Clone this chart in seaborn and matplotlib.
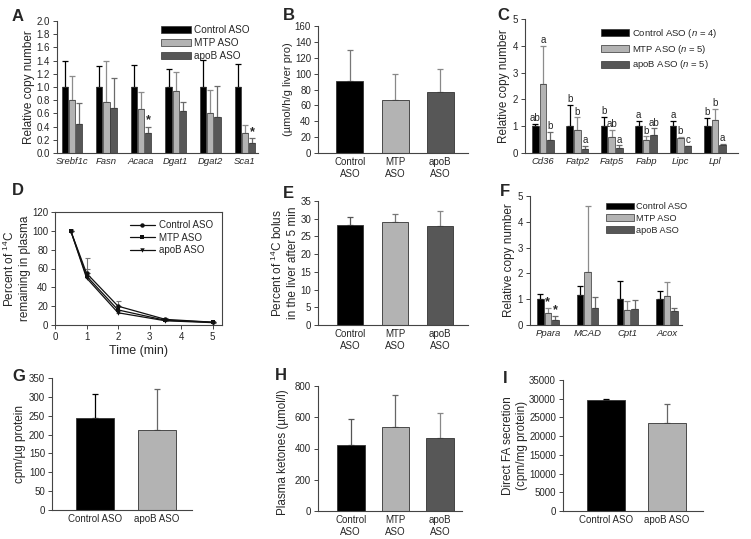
import matplotlib.pyplot as plt
import seaborn as sns
import pandas as pd
from matplotlib.patches import Patch

sns.set_style("ticks")
plt.rcParams['font.family'] = ['Liberation Sans', 'DejaVu Sans']
plt.rcParams['mathtext.fontset'] = 'custom'
plt.rcParams['mathtext.rm'] = 'Liberation Sans'
plt.rcParams['mathtext.it'] = 'Liberation Sans:italic'

# -----------------------------
# DATA
# -----------------------------
groups3 = ["Control ASO", "MTP ASO", "apoB ASO"]

# A - lipogenic genes
a_genes = ["Srebf1c", "Fasn", "Acaca", "Dgat1", "Dgat2", "Sca1"]
a_ctrl = [1.0, 1.0, 1.0, 1.0, 1.0, 1.0]
a_ctrl_top = [1.40, 1.32, 1.33, 1.28, 1.41, 1.35]
a_mtp = [0.81, 0.78, 0.67, 0.94, 0.60, 0.30]
a_mtp_top = [1.16, 1.39, 0.93, 1.23, 0.96, 0.42]
a_apob = [0.44, 0.68, 0.31, 0.63, 0.54, 0.15]
a_apob_top = [0.76, 1.13, 0.40, 0.78, 1.02, 0.22]

# B
b_groups = ["Control\nASO", "MTP\nASO", "apoB\nASO"]
b_vals = [91, 67, 77]
b_tops = [130, 100, 106]

# C - FA uptake genes
c_genes = ["Cd36", "Fatp2", "Fatp5", "Fabp", "Lipc", "Lpl"]
c_ctrl = [1.0, 1.0, 1.0, 1.0, 1.0, 1.0]
c_ctrl_top = [1.08, 1.80, 1.35, 1.20, 1.20, 1.32]
c_mtp = [2.58, 0.85, 0.60, 0.50, 0.55, 1.25]
c_mtp_top = [4.00, 1.33, 0.85, 0.62, 0.60, 1.65]
c_apob = [0.50, 0.15, 0.20, 0.68, 0.25, 0.28]
c_apob_top = [0.78, 0.25, 0.28, 0.92, 0.27, 0.33]
c_letters = [["ab", "b", "b", "a", "a", "b"],
             ["a", "b", "ab", "b", "b", "b"],
             ["b", "a", "a", "ab", "c", "a"]]
c_legend = [r"Control ASO ($n$ = 4)", r"MTP ASO ($n$ = 5)", r"apoB ASO ($n$ = 5)"]

# D - plasma clearance
d_time = [0.5, 1, 2, 3.5, 5]
d_ctrl = [100, 55, 20, 6, 3]
d_ctrl_err = [0, 16, 5, 1, 0.5]
d_mtp = [100, 52, 16, 5, 3]
d_mtp_err = [0, 8, 4, 1, 0.5]
d_apob = [100, 50, 13, 4.5, 2.5]
d_apob_err = [0, 5, 3, 1, 0.5]

# E
e_vals = [28.2, 29.0, 28.0]
e_tops = [30.6, 31.4, 32.1]

# F - oxidation genes
f_genes = ["Ppara", "MCAD", "Cpt1", "Acox"]
f_ctrl = [1.0, 1.15, 1.0, 1.0]
f_ctrl_top = [1.22, 1.50, 1.70, 1.30]
f_mtp = [0.45, 2.07, 0.58, 1.12]
f_mtp_top = [0.65, 4.60, 0.92, 1.65]
f_apob = [0.20, 0.65, 0.62, 0.55]
f_apob_top = [0.35, 1.10, 0.97, 0.67]

# G
g_groups = ["Control ASO", "apoB ASO"]
g_vals = [245, 213]
g_tops = [308, 320]

# H
h_vals = [425, 540, 465]
h_tops = [590, 740, 630]

# I
i_vals = [29700, 23600]
i_tops = [29800, 28700]

colors3 = ["#000000", "#b3b3b3", "#575757"]
errc3 = ["#000000", "#8c8c8c", "#6a6a6a"]
colors2 = ["#000000", "#b3b3b3"]
errc2 = ["#000000", "#666666"]

TICK = 7
LAB = 8.5

# -----------------------------
# FIGURE
# -----------------------------
W, H = 751, 539
fig = plt.figure(figsize=(W / 100, H / 100), dpi=100)


def add_ax(x0, y0, x1, y1):
    return fig.add_axes([x0 / W, 1 - y1 / H, (x1 - x0) / W, (y1 - y0) / H])


def style(ax, box=False):
    for s in ax.spines.values():
        s.set_color("#444444")
        s.set_linewidth(0.8)
    if not box:
        sns.despine(ax=ax)
        ax.tick_params(axis="x", length=0, pad=3)
    ax.tick_params(axis="y", length=3, width=0.7, color="#444444", pad=2)
    ax.tick_params(labelsize=TICK)
    ax.set_xlabel("")


def add_errors(ax, tops, ecolors):
    bars = sorted(ax.patches, key=lambda p: p.get_x())
    for bar, t, ec in zip(bars, tops, ecolors):
        x = bar.get_x() + bar.get_width() / 2
        h = bar.get_height()
        ax.errorbar(x, h, yerr=[[0], [t - h]], fmt="none", ecolor=ec,
                    elinewidth=0.9, capsize=2.2, capthick=0.9, zorder=1)
    return bars


def grouped(ax, cats, series, tops, width):
    rows = []
    for g, vals in zip(groups3, series):
        for c, v in zip(cats, vals):
            rows.append((c, g, v))
    df = pd.DataFrame(rows, columns=["cat", "grp", "val"])
    sns.barplot(data=df, x="cat", y="val", hue="grp", palette=colors3,
                width=width, gap=0.12, errorbar=None, edgecolor="#333333",
                linewidth=0.5, ax=ax, legend=False, zorder=2)
    flat_tops = [tops[g][i] for i in range(len(cats)) for g in range(3)]
    flat_ec = [errc3[g] for i in range(len(cats)) for g in range(3)]
    return add_errors(ax, flat_tops, flat_ec)


def single(ax, cats, vals, tops, colors, ecolors, width):
    df = pd.DataFrame({"cat": cats, "val": vals})
    sns.barplot(data=df, x="cat", y="val", hue="cat", palette=colors,
                width=width, errorbar=None, edgecolor="#333333",
                linewidth=0.6, ax=ax, legend=False, zorder=2)
    add_errors(ax, tops, ecolors)


def bar_legend(ax, labels, anchor, size=7.2):
    handles = [Patch(facecolor=c, edgecolor="#333333", linewidth=0.5) for c in colors3]
    ax.legend(handles, labels, loc="upper right", bbox_to_anchor=anchor,
              frameon=False, fontsize=size, handlelength=3.0, handleheight=0.75,
              labelspacing=0.3, handletextpad=0.3, borderaxespad=0)


def italic_xticks(ax):
    for lab in ax.get_xticklabels():
        lab.set_fontstyle("italic")
        lab.set_fontsize(6.8)


# -----------------------------
# A
# -----------------------------
ax = add_ax(57, 21, 258, 153)
bars = grouped(ax, a_genes, [a_ctrl, a_mtp, a_apob],
               [a_ctrl_top, a_mtp_top, a_apob_top], 0.62)
ax.set_ylim(0, 2.0)
ax.set_yticks([i / 5 for i in range(11)])
ax.set_yticklabels([f"{i / 5:.1f}" for i in range(11)])
ax.set_xlim(-0.43, 5.38)
ax.set_ylabel("Relative copy number", fontsize=LAB, labelpad=1)
style(ax)
italic_xticks(ax)
for gi in [2, 5]:
    b = bars[gi * 3 + 2]
    ax.text(b.get_x() + b.get_width() / 2, a_apob_top[gi] + 0.01, "*",
            ha="center", va="bottom", fontsize=9, fontweight="bold")
bar_legend(ax, groups3, (0.98, 1.0))

# -----------------------------
# B
# -----------------------------
ax = add_ax(318, 26, 468, 153)
single(ax, b_groups, b_vals, b_tops, colors3, ["#777777", "#888888", "#888888"], 0.6)
ax.set_ylim(0, 160)
ax.set_yticks(range(0, 161, 20))
ax.set_xlim(-0.71, 2.62)
ax.set_ylabel("(µmol/h/g liver pro)", fontsize=8.0, labelpad=1)
style(ax)

# -----------------------------
# C
# -----------------------------
ax = add_ax(525, 19, 738, 153)
bars = grouped(ax, c_genes, [c_ctrl, c_mtp, c_apob],
               [c_ctrl_top, c_mtp_top, c_apob_top], 0.66)
ax.set_ylim(0, 5)
ax.set_yticks(range(6))
ax.set_xlim(-0.52, 5.67)
ax.set_ylabel("Relative copy number", fontsize=LAB, labelpad=2)
style(ax)
italic_xticks(ax)
all_tops = [c_ctrl_top, c_mtp_top, c_apob_top]
for i in range(len(c_genes)):
    for g in range(3):
        b = bars[i * 3 + g]
        ax.text(b.get_x() + b.get_width() / 2, all_tops[g][i] + 0.03,
                c_letters[g][i], ha="center", va="bottom", fontsize=7)
bar_legend(ax, c_legend, (0.92, 0.97), size=6.8)

# -----------------------------
# D
# -----------------------------
ax = add_ax(55, 212, 222, 325)
rows = []
for g, vals in zip(groups3, [d_ctrl, d_mtp, d_apob]):
    for t, v in zip(d_time, vals):
        rows.append((t, g, v))
df_d = pd.DataFrame(rows, columns=["time", "grp", "val"])
for vals, errs in zip([d_ctrl, d_mtp, d_apob], [d_ctrl_err, d_mtp_err, d_apob_err]):
    ax.errorbar(d_time, vals, yerr=[[0] * len(errs), errs], fmt="none",
                ecolor="#777777", elinewidth=0.8, capsize=1.8, capthick=0.8, zorder=1)
sns.lineplot(data=df_d, x="time", y="val", hue="grp", style="grp",
             palette=["#111111"] * 3, markers=["o", "s", "v"], dashes=False,
             markersize=3.2, linewidth=0.9, markeredgewidth=0, ax=ax, zorder=3)
ax.set_xlim(0, 5.3)
ax.set_ylim(0, 120)
ax.set_xticks(range(6))
ax.set_yticks(range(0, 121, 20))
ax.set_ylabel("Percent of $^{14}$C\nremaining in plasma", fontsize=LAB, labelpad=1)
style(ax, box=True)
ax.tick_params(axis="x", length=3, width=0.7, color="#444444", pad=2)
ax.set_xlabel("Time (min)", fontsize=LAB + 0.5, labelpad=2)
ax.legend(title=None, loc="upper right", bbox_to_anchor=(0.97, 0.96), frameon=False,
          fontsize=7, handlelength=2.6, labelspacing=0.25, handletextpad=0.4,
          borderaxespad=0)

# -----------------------------
# E
# -----------------------------
ax = add_ax(318, 201, 468, 325)
single(ax, b_groups, e_vals, e_tops, colors3, ["#555555", "#777777", "#888888"], 0.58)
ax.set_ylim(0, 35)
ax.set_yticks(range(0, 36, 5))
ax.set_xlim(-0.71, 2.62)
ax.set_ylabel("Percent of $^{14}$C bolus\nin the liver after 5 min", fontsize=LAB, labelpad=1)
style(ax)

# -----------------------------
# F
# -----------------------------
ax = add_ax(530, 196, 682, 325)
bars = grouped(ax, f_genes, [f_ctrl, f_mtp, f_apob],
               [f_ctrl_top, f_mtp_top, f_apob_top], 0.56)
ax.set_ylim(0, 5)
ax.set_yticks(range(6))
ax.set_xlim(-0.45, 3.38)
ax.set_ylabel("Relative copy number", fontsize=LAB, labelpad=2)
style(ax)
italic_xticks(ax)
for g, top in [(1, f_mtp_top[0]), (2, f_apob_top[0])]:
    b = bars[g]
    ax.text(b.get_x() + b.get_width() / 2, top + 0.0, "*",
            ha="center", va="bottom", fontsize=9, fontweight="bold")
bar_legend(ax, groups3, (1.06, 0.98), size=6.6)

# -----------------------------
# G
# -----------------------------
ax = add_ax(52, 378, 192, 510)
single(ax, g_groups, g_vals, g_tops, colors2, errc2, 0.6)
ax.set_ylim(0, 350)
ax.set_yticks(range(0, 351, 50))
ax.set_xlim(-0.69, 1.56)
ax.set_ylabel("cpm/µg protein", fontsize=LAB, labelpad=2)
style(ax)

# -----------------------------
# H
# -----------------------------
ax = add_ax(318, 386, 462, 511)
single(ax, b_groups, h_vals, h_tops, colors3, ["#555555", "#666666", "#888888"], 0.62)
ax.set_ylim(0, 800)
ax.set_yticks(range(0, 801, 200))
ax.set_xlim(-0.73, 2.49)
ax.set_ylabel("Plasma ketones (µmol/l)", fontsize=8.4, labelpad=1)
ax.yaxis.set_label_coords(-0.2, 0.47)
style(ax)

# -----------------------------
# I
# -----------------------------
ax = add_ax(563, 380, 703, 511)
single(ax, g_groups, i_vals, i_tops, colors2, errc2, 0.62)
ax.set_ylim(0, 35000)
ax.set_yticks(range(0, 35001, 5000))
ax.set_xlim(-0.70, 1.59)
ax.set_ylabel("Direct FA secretion\n(cpm/mg protein)", fontsize=LAB, labelpad=1)
style(ax)

# -----------------------------
# PANEL LETTERS
# -----------------------------
letters = [("A", 12, 9), ("B", 283, 8), ("C", 497, 8),
           ("D", 12, 183), ("E", 283, 186), ("F", 500, 184),
           ("G", 12, 369), ("H", 275, 368), ("I", 503, 371)]
for t, x, y in letters:
    fig.text(x / W, 1 - y / H, t, fontsize=12, fontweight="bold", va="top", ha="left")

fig.savefig("out.png", dpi=100)
